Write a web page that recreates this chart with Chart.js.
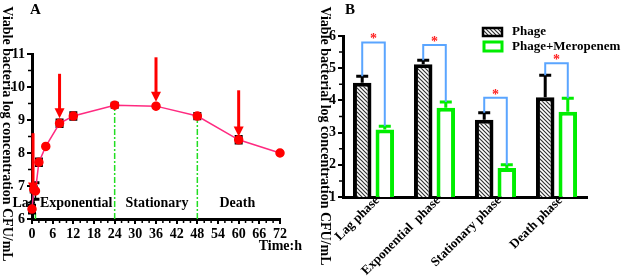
<!DOCTYPE html>
<html>
<head>
<meta charset="utf-8">
<script src="https://cdn.jsdelivr.net/npm/chart.js@4"></script>
<style>
    html, body { margin: 0; padding: 0; background: #fff; }
    #wrapA { position: absolute; left: 0; top: 0; width: 313px; height: 279px; }
    #wrapB { position: absolute; left: 313px; top: 0; width: 314px; height: 279px; }
</style>
</head>
<body>
<div id="wrapA"><canvas id="chartA" width="313" height="279"></canvas></div>
<div id="wrapB"><canvas id="chartB" width="314" height="279"></canvas></div>
<script>
// ---- Panel A: growth curve ----
const timeHours = [0, 0.5, 1, 2, 4, 8, 12, 24, 36, 48, 60, 72];
const logConc = [6.3, 6.9, 6.85, 7.72, 8.2, 8.9, 9.12, 9.45, 9.42, 9.12, 8.4, 8.0];
const logConcErr = [0.12, 0.08, 0.25, 0.1, 0, 0.1, 0.1, 0.06, 0, 0.08, 0.1, 0];
const arrowTimes = [0.3, 8, 36, 60];
const arrowFrom = [8.6, 10.4, 10.9, 9.9];
const arrowTo = [6.8, 9.05, 9.55, 8.5];
const phaseLineAt = [1, 24, 48];
const phaseLineTop = [6.3, 9.45, 9.12];
const phaseNames = ['Lag', 'Exponential', 'Stationary', 'Death'];
const phaseNameAt = [-2.3, 12.8, 36.3, 59.6];

// ---- Panel B: phage vs phage + meropenem ----
const phases = ['Lag phase', 'Exponential  phase', 'Stationary phase', 'Death phase'];
const phageVals = [4.55, 5.12, 3.4, 4.1];
const phageErr = [0.2, 0.13, 0.22, 0.68];
const comboVals = [3.1, 3.77, 1.9, 3.65];
const comboErr = [0.1, 0.18, 0.1, 0.42];
const bracketTop = [5.8, 5.72, 4.08, 5.15];

const serif = "'Liberation Serif', 'Times New Roman', serif";
const green = '#00ee00';
Chart.defaults.font.family = serif;
Chart.defaults.font.weight = 'bold';
Chart.defaults.font.size = 14;
Chart.defaults.color = '#000';

const bold = (size) => `bold ${size}px ${serif}`;

const axisCommon = {
    border: { display: true, color: '#000', width: 3 },
    grid: { drawOnChartArea: false, color: '#000', lineWidth: 2, tickLength: 5 },
    ticks: { color: '#000', font: { size: 14, weight: 'bold' }, padding: 2 },
};

// 세로 제목 (위에서 아래로 읽는 방향)
function drawSideTitle(ctx, text, cx, cy) {
    ctx.save();
    ctx.translate(cx, cy);
    ctx.rotate(Math.PI / 2);
    ctx.font = bold(14);
    ctx.fillStyle = '#000';
    ctx.textAlign = 'center';
    ctx.textBaseline = 'middle';
    ctx.fillText(text, 0, 0);
    ctx.restore();
}

// 장식: 구분선, 에러바, 화살표, 보조 눈금
const growthDecor = {
    id: 'growthDecor',
    beforeDatasetsDraw(chart) {
        const { ctx, scales: { x, y } } = chart;
        ctx.save();
        ctx.strokeStyle = '#22dd22';
        ctx.lineWidth = 1.5;
        ctx.setLineDash([6, 2, 2, 2]);
        phaseLineAt.forEach((t, i) => {
            const px = x.getPixelForValue(t);
            ctx.beginPath();
            ctx.moveTo(px, y.getPixelForValue(6));
            ctx.lineTo(px, y.getPixelForValue(phaseLineTop[i]));
            ctx.stroke();
        });
        ctx.setLineDash([]);

        ctx.font = bold(14);
        ctx.fillStyle = '#000';
        ctx.textAlign = 'center';
        ctx.textBaseline = 'middle';
        phaseNames.forEach((name, i) => {
            ctx.fillText(name, x.getPixelForValue(phaseNameAt[i]), y.getPixelForValue(6.48));
        });

        ctx.strokeStyle = '#000';
        timeHours.forEach((t, i) => {
            const e = logConcErr[i];
            if (!e) return;
            const px = x.getPixelForValue(t);
            const top = y.getPixelForValue(logConc[i] + e);
            const bot = y.getPixelForValue(logConc[i] - e);
            ctx.lineWidth = 1.5;
            ctx.beginPath();
            ctx.moveTo(px, top);
            ctx.lineTo(px, bot);
            ctx.stroke();
            ctx.lineWidth = 3;
            ctx.beginPath();
            ctx.moveTo(px - 4, top);
            ctx.lineTo(px + 4, top);
            ctx.moveTo(px - 4, bot);
            ctx.lineTo(px + 4, bot);
            ctx.stroke();
        });
        ctx.restore();
    },
    afterDatasetsDraw(chart) {
        const { ctx, scales: { x, y } } = chart;
        ctx.save();
        ctx.strokeStyle = '#ff0000';
        ctx.fillStyle = '#ff0000';
        ctx.lineWidth = 3;
        arrowTimes.forEach((t, i) => {
            const px = x.getPixelForValue(t);
            const y0 = y.getPixelForValue(arrowFrom[i]);
            const y1 = y.getPixelForValue(arrowTo[i]);
            ctx.beginPath();
            ctx.moveTo(px, y0);
            ctx.lineTo(px, y1 - 9);
            ctx.stroke();
            ctx.beginPath();
            ctx.moveTo(px - 5, y1 - 10);
            ctx.lineTo(px + 5, y1 - 10);
            ctx.lineTo(px, y1);
            ctx.closePath();
            ctx.fill();
        });

        // 보조 눈금
        ctx.strokeStyle = '#000';
        ctx.lineWidth = 1.5;
        ctx.beginPath();
        for (let t = 2; t < 72; t += 2) {
            if (t % 6 === 0) continue;
            const px = x.getPixelForValue(t);
            ctx.moveTo(px, y.bottom + 1);
            ctx.lineTo(px, y.bottom + 4);
        }
        for (let v = 6.5; v < 11; v += 1) {
            const py = y.getPixelForValue(v);
            ctx.moveTo(x.left - 1, py);
            ctx.lineTo(x.left - 4, py);
        }
        ctx.stroke();

        ctx.fillStyle = '#000';
        ctx.textBaseline = 'middle';
        ctx.font = bold(15);
        ctx.textAlign = 'left';
        ctx.fillText('A', 30, 10);
        ctx.font = bold(14);
        ctx.textAlign = 'right';
        ctx.fillText('Time:h', 302, 246);
        drawSideTitle(ctx, 'Viable bacteria log concentration CFU/mL', 7, 134);
        ctx.restore();
    },
};

new Chart(document.getElementById('chartA'), {
    type: 'line',
    data: {
        datasets: [{
            data: timeHours.map((t, i) => ({ x: t, y: logConc[i] })),
            borderColor: '#ff2a80',
            borderWidth: 1.5,
            pointBackgroundColor: '#ff0000',
            pointBorderColor: '#ff0000',
            pointRadius: 4,
            tension: 0,
            clip: false,
        }],
    },
    options: {
        responsive: false,
        animation: false,
        layout: { padding: { top: 54, right: 33, left: 0, bottom: 0 } },
        plugins: { legend: { display: false }, tooltip: { enabled: false } },
        scales: {
            x: {
                ...axisCommon,
                type: 'linear',
                min: 0,
                max: 72,
                ticks: { ...axisCommon.ticks, stepSize: 6, autoSkip: false, maxRotation: 0 },
                afterFit: (scale) => { scale.height = 60; },
            },
            y: {
                ...axisCommon,
                min: 6,
                max: 11,
                ticks: { ...axisCommon.ticks, stepSize: 1 },
                afterFit: (scale) => { scale.width = 32; },
            },
        },
    },
    plugins: [growthDecor],
});

// ---- Panel B ----
const ctxB = document.getElementById('chartB').getContext('2d');

function makeHatch(ctx) {
    const c = document.createElement('canvas');
    c.width = 4;
    c.height = 4;
    const g = c.getContext('2d');
    g.fillStyle = '#fff';
    g.fillRect(0, 0, 4, 4);
    g.strokeStyle = '#333';
    g.lineWidth = 1.2;
    g.beginPath();
    g.moveTo(0, 0); g.lineTo(4, 4);
    g.moveTo(-1, 3); g.lineTo(1, 5);
    g.moveTo(3, -1); g.lineTo(5, 1);
    g.stroke();
    return ctx.createPattern(c, 'repeat');
}
const hatch = makeHatch(ctxB);

const barDecor = {
    id: 'barDecor',
    afterDatasetsDraw(chart) {
        const { ctx, scales: { x, y } } = chart;
        const phageBars = chart.getDatasetMeta(0).data;
        const comboBars = chart.getDatasetMeta(1).data;
        ctx.save();

        // 에러바 (위쪽만)
        const drawErr = (bars, vals, errs, color) => {
            ctx.strokeStyle = color;
            ctx.lineWidth = 3;
            bars.forEach((bar, i) => {
                const top = y.getPixelForValue(vals[i] + errs[i]);
                ctx.beginPath();
                ctx.moveTo(bar.x, y.getPixelForValue(vals[i]));
                ctx.lineTo(bar.x, top);
                ctx.moveTo(bar.x - 6, top);
                ctx.lineTo(bar.x + 6, top);
                ctx.stroke();
            });
        };
        drawErr(phageBars, phageVals, phageErr, '#000');
        drawErr(comboBars, comboVals, comboErr, green);

        // 유의성 표시
        ctx.strokeStyle = '#5aa5ff';
        ctx.lineWidth = 2;
        ctx.fillStyle = '#ff2020';
        ctx.font = bold(14);
        ctx.textAlign = 'center';
        ctx.textBaseline = 'alphabetic';
        bracketTop.forEach((b, i) => {
            const x0 = phageBars[i].x;
            const x1 = comboBars[i].x;
            const top = y.getPixelForValue(b);
            ctx.beginPath();
            ctx.moveTo(x0, y.getPixelForValue(phageVals[i] + phageErr[i]));
            ctx.lineTo(x0, top);
            ctx.lineTo(x1, top);
            ctx.lineTo(x1, y.getPixelForValue(comboVals[i] + comboErr[i]));
            ctx.stroke();
            ctx.fillText('*', (x0 + x1) / 2, top + 1);
        });

        // 보조 눈금
        ctx.strokeStyle = '#000';
        ctx.lineWidth = 1.5;
        ctx.beginPath();
        for (let v = 1.5; v < 6; v += 1) {
            const py = y.getPixelForValue(v);
            ctx.moveTo(x.left - 1, py);
            ctx.lineTo(x.left - 4, py);
        }
        ctx.stroke();

        // 범례
        ctx.fillStyle = hatch;
        ctx.fillRect(170, 28, 19, 8);
        ctx.strokeStyle = '#000';
        ctx.lineWidth = 2.5;
        ctx.strokeRect(170, 28, 19, 8);
        ctx.fillStyle = '#fff';
        ctx.fillRect(170, 41, 20, 11);
        ctx.strokeStyle = green;
        ctx.lineWidth = 3;
        ctx.strokeRect(171, 42, 18, 9);
        ctx.fillStyle = '#000';
        ctx.font = bold(13);
        ctx.textAlign = 'left';
        ctx.textBaseline = 'middle';
        ctx.fillText('Phage', 199, 32);
        ctx.fillText('Phage+Meropenem', 199, 47);

        ctx.font = bold(15);
        ctx.fillText('B', 32, 10);
        drawSideTitle(ctx, 'Viable bacterial log concentration CFU/mL', 12, 136);
        ctx.restore();
    },
};

new Chart(ctxB, {
    type: 'bar',
    data: {
        labels: phases,
        datasets: [
            {
                label: 'Phage',
                data: phageVals,
                backgroundColor: hatch,
                borderColor: '#000',
                borderWidth: 4,
            },
            {
                label: 'Phage+Meropenem',
                data: comboVals,
                backgroundColor: '#fff',
                borderColor: green,
                borderWidth: 4,
            },
        ],
    },
    options: {
        responsive: false,
        animation: false,
        categoryPercentage: 0.74,
        barPercentage: 0.82,
        layout: { padding: { top: 36, right: 40, left: 0, bottom: 0 } },
        plugins: { legend: { display: false }, tooltip: { enabled: false } },
        scales: {
            x: {
                border: { display: true, color: '#000', width: 3 },
                grid: { display: false, drawTicks: false },
                ticks: {
                    color: '#000',
                    font: { size: 13, weight: 'bold' },
                    minRotation: 45,
                    maxRotation: 45,
                    autoSkip: false,
                    padding: -4,
                    labelOffset: 4,
                },
                afterFit: (scale) => { scale.height = 82; },
            },
            y: {
                ...axisCommon,
                min: 1,
                max: 6,
                ticks: { ...axisCommon.ticks, stepSize: 1 },
                afterFit: (scale) => { scale.width = 30; },
            },
        },
    },
    plugins: [barDecor],
});
</script>
</body>
</html>
